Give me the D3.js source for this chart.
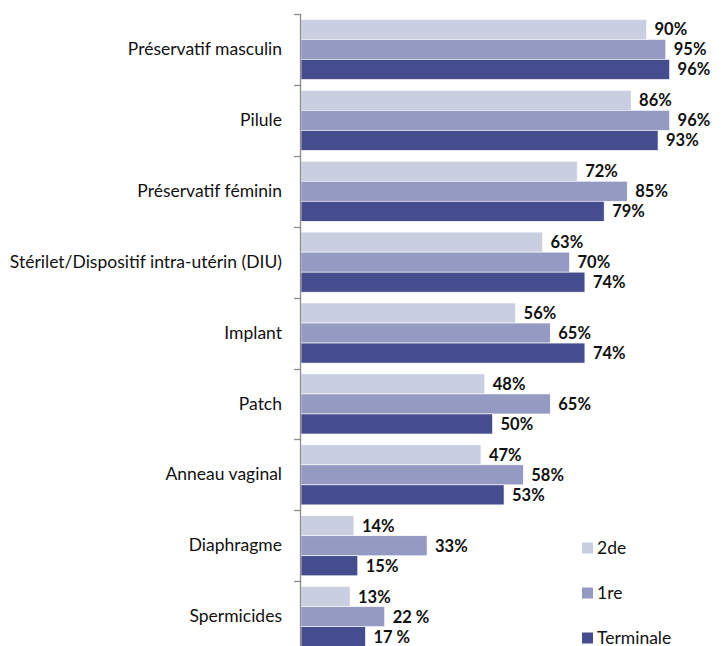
<!DOCTYPE html>
<html>
<head>
<meta charset="utf-8">
<script src="https://cdn.jsdelivr.net/npm/d3@7"></script>
<style>
  html, body { margin: 0; padding: 0; background: #fff; }
  svg { display: block; }
  text { font-family: Lato, "Open Sans", sans-serif; }
</style>
</head>
<body>
<svg id="chart" width="723" height="646"></svg>
<script>
// Methods known, by school year
const categories = [
  "Préservatif masculin", "Pilule", "Préservatif féminin",
  "Stérilet/Dispositif intra-utérin (DIU)", "Implant", "Patch",
  "Anneau vaginal", "Diaphragme", "Spermicides"
];
const seriesNames = ["2de", "1re", "Terminale"];
const seconde   = [90, 86, 72, 63, 56, 48, 47, 14, 13];
const premiere  = [95, 96, 85, 70, 65, 65, 58, 33, 22];
const terminale = [96, 93, 79, 74, 74, 50, 53, 15, 17];
const labels2de  = ["90%", "86%", "72%", "63%", "56%", "48%", "47%", "14%", "13%"];
const labels1re  = ["95%", "96%", "85%", "70%", "65%", "65%", "58%", "33%", "22 %"];
const labelsTerm = ["96%", "93%", "79%", "74%", "74%", "50%", "53%", "15%", "17 %"];
const colors = ["#c9cee1", "#959ac3", "#464d8e"];

const series = [seconde, premiere, terminale];
const seriesLabels = [labels2de, labels1re, labelsTerm];

const svg = d3.select("#chart");
const plotLeft = 300, plotTop = 14, bandH = 70.9;

const x = d3.scaleLinear().domain([0, 100]).range([plotLeft, 685]);
const y = d3.scaleBand().domain(categories)
  .range([plotTop, plotTop + bandH * categories.length])
  .paddingInner(0).paddingOuter(0);
const inner = d3.scaleBand().domain(seriesNames)
  .range([0, y.bandwidth()]).paddingInner(0).paddingOuter(0.27);

// bars
const groups = svg.selectAll("g.cat").data(categories).join("g")
  .attr("class", "cat")
  .attr("transform", d => `translate(0,${y(d)})`);

seriesNames.forEach((s, si) => {
  groups.append("rect")
    .attr("x", x(0) + 1)
    .attr("y", inner(s))
    .attr("width", (d, i) => x(series[si][i]) - x(0) - 1)
    .attr("height", inner.bandwidth())
    .attr("fill", colors[si])
    .attr("stroke", "#ffffff")
    .attr("stroke-width", 0.6);

  groups.append("text")
    .attr("x", (d, i) => x(series[si][i]) + 8)
    .attr("y", inner(s) + inner.bandwidth() / 2)
    .attr("dy", "0.36em")
    .attr("font-size", 16.5)
    .attr("font-weight", "bold")
    .attr("fill", "#111")
    .text((d, i) => seriesLabels[si][i]);
});

// category axis
const axis = d3.axisLeft(y).tickSize(0).tickPadding(18);
const ag = svg.append("g").attr("transform", `translate(${plotLeft},0)`).call(axis);
ag.select(".domain").attr("stroke", "#8c8c8c").attr("stroke-width", 1.3)
  .attr("d", `M0.5,${plotTop}V${plotTop + bandH * categories.length}`);
ag.selectAll(".tick text").attr("font-size", 17.5).attr("fill", "#111")
  .style("font-family", "Lato, sans-serif");

// boundary tick marks between categories
const bounds = d3.range(categories.length + 1).map(i => plotTop + i * bandH);
svg.append("g").selectAll("line").data(bounds).join("line")
  .attr("x1", plotLeft - 6).attr("x2", plotLeft + 0.5)
  .attr("y1", d => Math.round(d) + 0.5).attr("y2", d => Math.round(d) + 0.5)
  .attr("stroke", "#8c8c8c").attr("stroke-width", 1.3);

// legend
const legend = svg.append("g").attr("transform", "translate(582,548)");
seriesNames.forEach((s, i) => {
  const g = legend.append("g").attr("transform", `translate(0,${i * 45})`);
  g.append("rect").attr("x", 0).attr("y", -5.5).attr("width", 11).attr("height", 11)
    .attr("fill", colors[i]);
  g.append("text").attr("x", 15).attr("y", 0).attr("dy", "0.36em")
    .attr("font-size", 17.5).attr("fill", "#111").text(s);
});
</script>
</body>
</html>
